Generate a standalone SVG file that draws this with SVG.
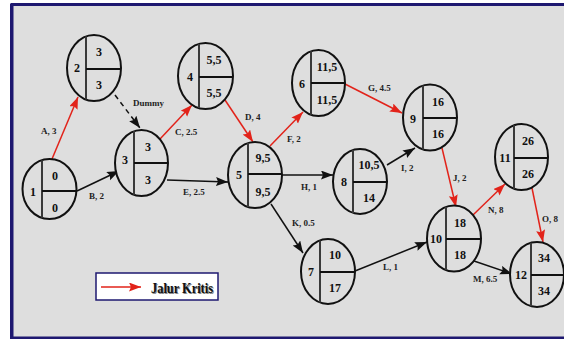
<svg xmlns="http://www.w3.org/2000/svg" width="564" height="339" viewBox="0 0 564 339">
<style>
.el{fill:#dedede;stroke:#111;stroke-width:2}
.dv{stroke:#3a3a3a;stroke-width:2}
.hz{stroke:#111;stroke-width:2}
.n{font-family:"Liberation Serif",serif;font-weight:bold;font-size:12px;fill:#111;text-anchor:middle}
.lb{font-family:"Liberation Serif",serif;font-weight:bold;font-size:9px;fill:#222}
.r{stroke:#e2231a;stroke-width:1.5;fill:none;marker-end:url(#ar)}
.k{stroke:#111;stroke-width:1.5;fill:none;marker-end:url(#ak)}
</style>
<defs>
<marker id="ar" markerUnits="userSpaceOnUse" markerWidth="13" markerHeight="10" refX="12" refY="4.5" orient="auto"><path d="M0,0 L12,4.5 L0,9 L2,4.5 z" fill="#e2231a"/></marker>
<marker id="ak" markerUnits="userSpaceOnUse" markerWidth="13" markerHeight="10" refX="12" refY="4.5" orient="auto"><path d="M0,0 L12,4.5 L0,9 L2,4.5 z" fill="#111"/></marker>
</defs>
<rect x="0" y="0" width="564" height="339" fill="#ffffff"/>
<rect x="12" y="4.5" width="560" height="333.5" fill="#dedede" stroke="#1e1870" stroke-width="3"/>
<line x1="11" y1="4" x2="11" y2="339" stroke="#1e1870" stroke-width="2"/>

<g id="connectors">
<line class="r" x1="52" y1="159" x2="78" y2="97"/>
<line class="k" x1="77" y1="191" x2="119" y2="171"/>
<line class="k" x1="115" y1="95" x2="140" y2="128" stroke-dasharray="5,4"/>
<line class="r" x1="160" y1="139" x2="192" y2="105"/>
<line class="k" x1="167" y1="180" x2="228" y2="182"/>
<line class="r" x1="225" y1="100" x2="253" y2="142"/>
<line class="r" x1="270" y1="146" x2="303" y2="112"/>
<line class="r" x1="345" y1="84" x2="402" y2="113"/>
<line class="k" x1="282" y1="175" x2="333" y2="175"/>
<line class="k" x1="387" y1="165" x2="415" y2="148"/>
<line class="r" x1="442" y1="148" x2="456" y2="207"/>
<line class="k" x1="271" y1="204" x2="303" y2="253"/>
<line class="k" x1="355" y1="271" x2="427" y2="242"/>
<line class="k" x1="474" y1="261" x2="512" y2="274"/>
<line class="r" x1="473" y1="215" x2="505" y2="184"/>
<line class="r" x1="532" y1="188" x2="543" y2="242"/>
<text class="lb" x="41" y="134">A, 3</text>
<text class="lb" x="89" y="199">B, 2</text>
<text class="lb" x="133" y="106">Dummy</text>
<text class="lb" x="175" y="135">C, 2.5</text>
<text class="lb" x="183" y="195">E, 2.5</text>
<text class="lb" x="245" y="120">D, 4</text>
<text class="lb" x="287" y="142">F, 2</text>
<text class="lb" x="368" y="91">G, 4.5</text>
<text class="lb" x="301" y="190">H, 1</text>
<text class="lb" x="401" y="171">I, 2</text>
<text class="lb" x="453" y="181">J, 2</text>
<text class="lb" x="292" y="226">K, 0.5</text>
<text class="lb" x="383" y="270">L, 1</text>
<text class="lb" x="473" y="282">M, 6.5</text>
<text class="lb" x="488" y="213">N, 8</text>
<text class="lb" x="542" y="222">O, 8</text>
</g>

<g id="node1">
<ellipse class="el" cx="49.5" cy="189" rx="27" ry="30"/>
<line class="dv" x1="42" y1="160.2" x2="42" y2="217.8"/>
<line class="hz" x1="42" y1="191" x2="76.5" y2="191"/>
<text class="n" x="33" y="196">1</text>
<text class="n" x="55" y="180">0</text>
<text class="n" x="55" y="212">0</text>
</g>
<g id="node2">
<ellipse class="el" cx="94" cy="68" rx="27" ry="33"/>
<line class="dv" x1="86" y1="36.5" x2="86" y2="99.5"/>
<line class="hz" x1="86" y1="69" x2="121" y2="69"/>
<text class="n" x="77" y="72">2</text>
<text class="n" x="99" y="56">3</text>
<text class="n" x="99" y="89">3</text>
</g>
<g id="node3">
<ellipse class="el" cx="141.5" cy="163" rx="26.5" ry="33"/>
<line class="dv" x1="134" y1="131.3" x2="134" y2="194.7"/>
<line class="hz" x1="134" y1="163" x2="168" y2="163"/>
<text class="n" x="125" y="164">3</text>
<text class="n" x="148" y="151">3</text>
<text class="n" x="148" y="184">3</text>
</g>
<g id="node4">
<ellipse class="el" cx="205.5" cy="76" rx="27.5" ry="33"/>
<line class="dv" x1="199" y1="43.9" x2="199" y2="108.1"/>
<line class="hz" x1="199" y1="77" x2="233" y2="77"/>
<text class="n" x="190" y="81">4</text>
<text class="n" x="214" y="64">5,5</text>
<text class="n" x="214" y="97">5,5</text>
</g>
<g id="node5">
<ellipse class="el" cx="255" cy="175" rx="27" ry="33"/>
<line class="dv" x1="248" y1="143.1" x2="248" y2="206.9"/>
<line class="hz" x1="248" y1="174" x2="282" y2="174"/>
<text class="n" x="239" y="179">5</text>
<text class="n" x="263" y="162">9,5</text>
<text class="n" x="263" y="196">9,5</text>
</g>
<g id="node6">
<ellipse class="el" cx="318.5" cy="83" rx="26.5" ry="33"/>
<line class="dv" x1="311" y1="51.3" x2="311" y2="114.7"/>
<line class="hz" x1="311" y1="83" x2="345" y2="83"/>
<text class="n" x="302" y="88">6</text>
<text class="n" x="327" y="71">11,5</text>
<text class="n" x="327" y="104">11,5</text>
</g>
<g id="node7">
<ellipse class="el" cx="328" cy="271.5" rx="27" ry="32.5"/>
<line class="dv" x1="320" y1="240.5" x2="320" y2="302.5"/>
<line class="hz" x1="320" y1="272" x2="355" y2="272"/>
<text class="n" x="311" y="276">7</text>
<text class="n" x="335" y="259">10</text>
<text class="n" x="335" y="292">17</text>
</g>
<g id="node8">
<ellipse class="el" cx="360" cy="181.5" rx="27" ry="32.5"/>
<line class="dv" x1="353" y1="150.1" x2="353" y2="212.9"/>
<line class="hz" x1="353" y1="182" x2="387" y2="182"/>
<text class="n" x="344" y="186">8</text>
<text class="n" x="369" y="169">10,5</text>
<text class="n" x="369" y="202">14</text>
</g>
<g id="node9">
<ellipse class="el" cx="430" cy="117.5" rx="27" ry="33"/>
<line class="dv" x1="423" y1="85.6" x2="423" y2="149.4"/>
<line class="hz" x1="423" y1="118" x2="457" y2="118"/>
<text class="n" x="413" y="123">9</text>
<text class="n" x="438" y="106">16</text>
<text class="n" x="438" y="138">16</text>
</g>
<g id="node10">
<ellipse class="el" cx="454" cy="238.5" rx="27" ry="33"/>
<line class="dv" x1="446" y1="207" x2="446" y2="270"/>
<line class="hz" x1="446" y1="239" x2="481" y2="239"/>
<text class="n" x="436" y="243">10</text>
<text class="n" x="460" y="227">18</text>
<text class="n" x="460" y="259">18</text>
</g>
<g id="node11">
<ellipse class="el" cx="521.5" cy="157" rx="26.5" ry="33"/>
<line class="dv" x1="514" y1="125.3" x2="514" y2="188.7"/>
<line class="hz" x1="514" y1="158" x2="548" y2="158"/>
<text class="n" x="505" y="162">11</text>
<text class="n" x="528" y="145">26</text>
<text class="n" x="528" y="178">26</text>
</g>
<g id="node12">
<ellipse class="el" cx="537" cy="274.5" rx="27" ry="32.5"/>
<line class="dv" x1="531" y1="242.8" x2="531" y2="306.2"/>
<line class="hz" x1="531" y1="275" x2="564" y2="275"/>
<text class="n" x="521" y="279">12</text>
<text class="n" x="544" y="262">34</text>
<text class="n" x="544" y="295">34</text>
</g>

<g id="legend">
<rect x="96" y="273" width="122" height="27" fill="#ffffff" stroke="#1e1870" stroke-width="1.5"/>
<line class="r" x1="101" y1="287" x2="141" y2="287"/>
<text x="152" y="294" font-family="Liberation Serif,serif" font-weight="bold" font-size="15" fill="#888" textLength="62" lengthAdjust="spacingAndGlyphs">Jalur Kritis</text>
<text x="151" y="293" font-family="Liberation Serif,serif" font-weight="bold" font-size="15" fill="#111" textLength="62" lengthAdjust="spacingAndGlyphs">Jalur Kritis</text>
</g>
</svg>
